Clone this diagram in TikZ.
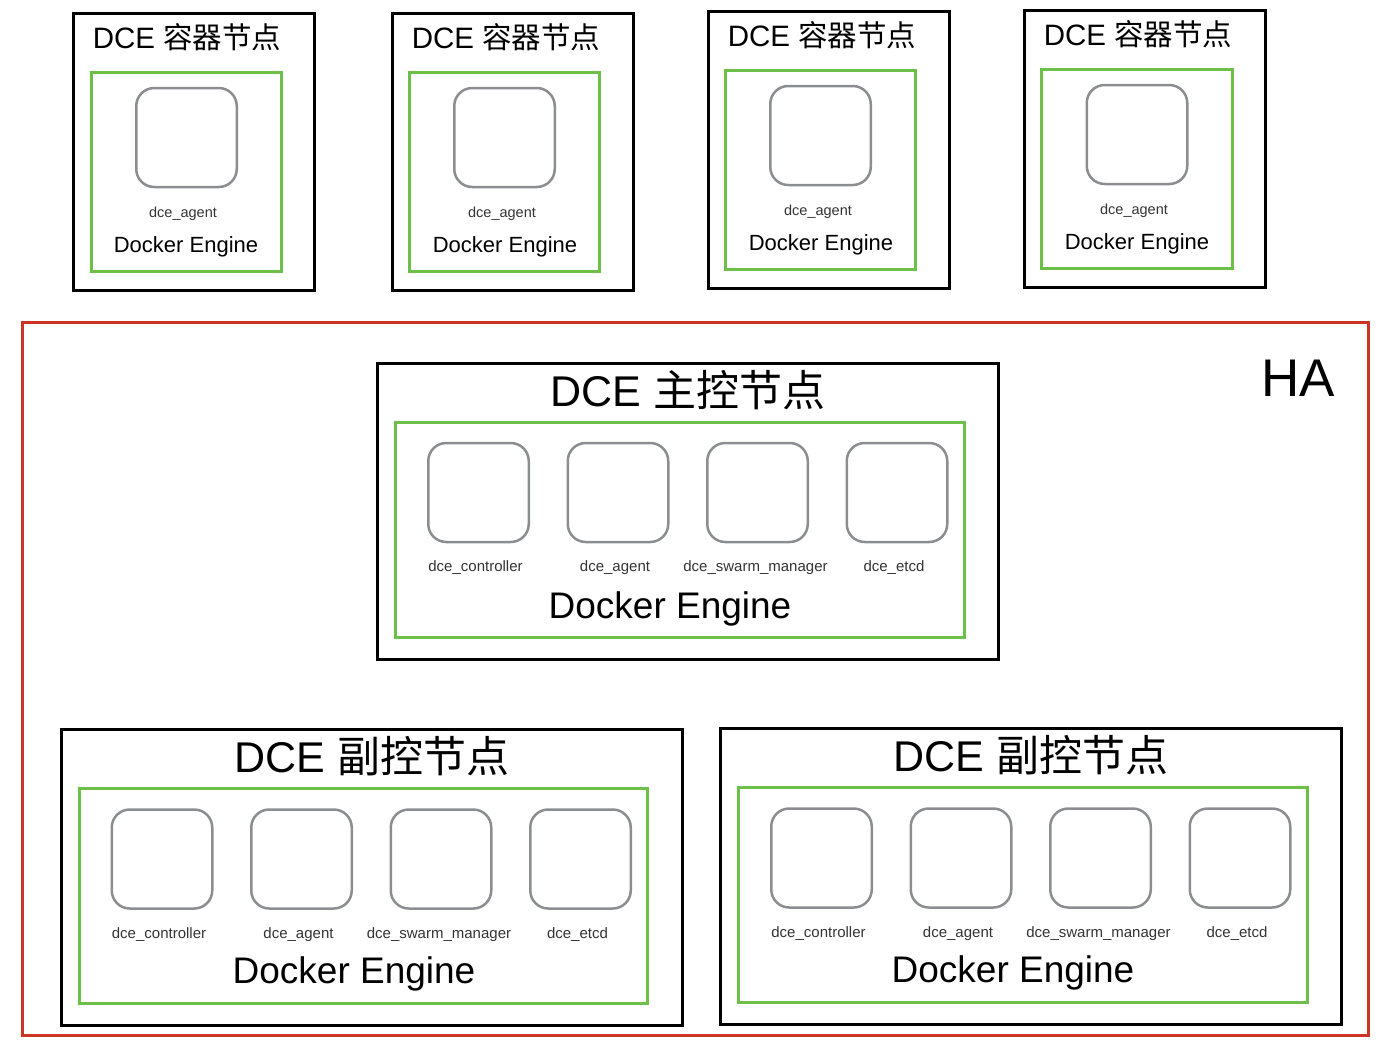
\documentclass[tikz,border=0pt]{standalone}
\usepackage{fontspec}
\setmainfont{Liberation Sans}
\newfontfamily\cjk{Noto Sans CJK SC}
\usetikzlibrary{positioning}
\definecolor{hared}{HTML}{CC3424}
\definecolor{enggreen}{HTML}{6CBF47}
\definecolor{svcgrey}{HTML}{8B8D91}

\begin{document}
\begin{tikzpicture}[x=1pt, y=-1pt, node distance=36.5pt,
    hostbox/.style={draw, line width=3pt, inner sep=0pt},
    engbox/.style={draw=enggreen, line width=3pt, inner sep=0pt},
    svc/.style={draw=svcgrey, line width=2.5pt, rounded corners=18pt, minimum width=100.5pt, minimum height=99pt},
    bigtitle/.style={font=\fontsize{43}{43}\selectfont},
    smalltitle/.style={font=\fontsize{29.5}{29.5}\selectfont},
    bigengine/.style={font=\fontsize{37}{37}\selectfont},
    smallengine/.style={font=\fontsize{22}{22}\selectfont},
    svclbl/.style={font=\fontsize{15}{15}\selectfont, text=black!80},
    agentlbl/.style={font=\fontsize{14.5}{14.5}\selectfont, text=black!80}]
        \useasboundingbox (0,0) rectangle (1393,1044);

        % container nodes
        \node[hostbox, minimum width=241pt, minimum height=277pt]   (C1)   at (194,152)    {};
        \node[smalltitle]                                            (C1T)  at (187,37)     {DCE {\cjk 容器节点}};
        \node[engbox, minimum width=190pt, minimum height=199pt]    (C1E)  at (186.5,172)  {};
        \node[svc]                                                  (C1A)  at (186.5,137.5) {};
        \node[agentlbl]                                             (C1L)  at (183,213.5)  {dce\_agent};
        \node[smallengine]                                          (C1D)  at (186,247)    {Docker Engine};

        \node[hostbox, minimum width=241pt, minimum height=277pt]   (C2)   at (512.5,152)  {};
        \node[smalltitle]                                            (C2T)  at (506,37)     {DCE {\cjk 容器节点}};
        \node[engbox, minimum width=190pt, minimum height=199pt]    (C2E)  at (504.5,172)  {};
        \node[svc]                                                  (C2A)  at (504.5,137.5) {};
        \node[agentlbl]                                             (C2L)  at (502,213.5)  {dce\_agent};
        \node[smallengine]                                          (C2D)  at (505,247)    {Docker Engine};

        \node[hostbox, minimum width=241pt, minimum height=277pt]   (C3)   at (828.5,150)  {};
        \node[smalltitle]                                            (C3T)  at (822,35)     {DCE {\cjk 容器节点}};
        \node[engbox, minimum width=190pt, minimum height=199pt]    (C3E)  at (820.5,170)  {};
        \node[svc]                                                  (C3A)  at (820.5,135.5) {};
        \node[agentlbl]                                             (C3L)  at (818,211.5)  {dce\_agent};
        \node[smallengine]                                          (C3D)  at (821,245)    {Docker Engine};

        \node[hostbox, minimum width=241pt, minimum height=277pt]   (C4)   at (1144.5,149) {};
        \node[smalltitle]                                            (C4T)  at (1138,34)    {DCE {\cjk 容器节点}};
        \node[engbox, minimum width=191pt, minimum height=199pt]    (C4E)  at (1137,169)   {};
        \node[svc]                                                  (C4A)  at (1137,134.5) {};
        \node[agentlbl]                                             (C4L)  at (1134,210.5) {dce\_agent};
        \node[smallengine]                                          (C4D)  at (1137,244)   {Docker Engine};

        % HA
        \node[draw=hared, line width=3pt, minimum width=1346pt, minimum height=713pt] (HA) at (695.5,679) {};
        \node[font=\fontsize{53}{53}\selectfont]                    (HAT)  at (1298,378)   {HA};

        % master node
        \node[hostbox, minimum width=621pt, minimum height=296pt]   (M)    at (688,511.5)  {};
        \node[bigtitle]                                              (MT)   at (688,390)    {DCE {\cjk 主控节点}};
        \node[engbox, minimum width=569pt, minimum height=215pt]    (ME)   at (680,530)    {};
        \node[svc]                                                  (M1)   at (478.5,492.5) {};
        \node[svc, right=of M1]                                     (M2)   {};
        \node[svc, right=of M2]                                     (M3)   {};
        \node[svc, right=of M3]                                     (M4)   {};
        \node[svclbl, below=14pt of M1, xshift=-3pt]                (M1L)  {dce\_controller};
        \node[svclbl, below=14pt of M2, xshift=-3pt]                (M2L)  {dce\_agent};
        \node[svclbl, below=14pt of M3, xshift=-2pt]                (M3L)  {dce\_swarm\_manager};
        \node[svclbl, below=14pt of M4, xshift=-3pt]                (M4L)  {dce\_etcd};
        \node[bigengine]                                             (MD)   at (670,608.5)  {Docker Engine};

        % standby nodes
        \node[hostbox, minimum width=621pt, minimum height=296pt]   (S)    at (372,877.5)  {};
        \node[bigtitle]                                              (ST)   at (372,756)    {DCE {\cjk 副控节点}};
        \node[engbox, minimum width=568pt, minimum height=215pt]    (SE)   at (363.5,896)  {};
        \node[svc]                                                  (S1)   at (162,859)    {};
        \node[svc, right=of S1]                                     (S2)   {};
        \node[svc, right=of S2]                                     (S3)   {};
        \node[svc, right=of S3]                                     (S4)   {};
        \node[svclbl, below=14pt of S1, xshift=-3pt]                (S1L)  {dce\_controller};
        \node[svclbl, below=14pt of S2, xshift=-3pt]                (S2L)  {dce\_agent};
        \node[svclbl, below=14pt of S3, xshift=-2pt]                (S3L)  {dce\_swarm\_manager};
        \node[svclbl, below=14pt of S4, xshift=-3pt]                (S4L)  {dce\_etcd};
        \node[bigengine]                                             (SD)   at (354,973.5)  {Docker Engine};

        \node[hostbox, minimum width=621pt, minimum height=296pt]   (R)    at (1031,876.5) {};
        \node[bigtitle]                                              (RT)   at (1031,755)   {DCE {\cjk 副控节点}};
        \node[engbox, minimum width=569pt, minimum height=215pt]    (RE)   at (1023,895)   {};
        \node[svc]                                                  (R1)   at (821.5,858)  {};
        \node[svc, right=of R1]                                     (R2)   {};
        \node[svc, right=of R2]                                     (R3)   {};
        \node[svc, right=of R3]                                     (R4)   {};
        \node[svclbl, below=14pt of R1, xshift=-3pt]                (R1L)  {dce\_controller};
        \node[svclbl, below=14pt of R2, xshift=-3pt]                (R2L)  {dce\_agent};
        \node[svclbl, below=14pt of R3, xshift=-2pt]                (R3L)  {dce\_swarm\_manager};
        \node[svclbl, below=14pt of R4, xshift=-3pt]                (R4L)  {dce\_etcd};
        \node[bigengine]                                             (RD)   at (1013,972.5) {Docker Engine};
\end{tikzpicture}
\end{document}
